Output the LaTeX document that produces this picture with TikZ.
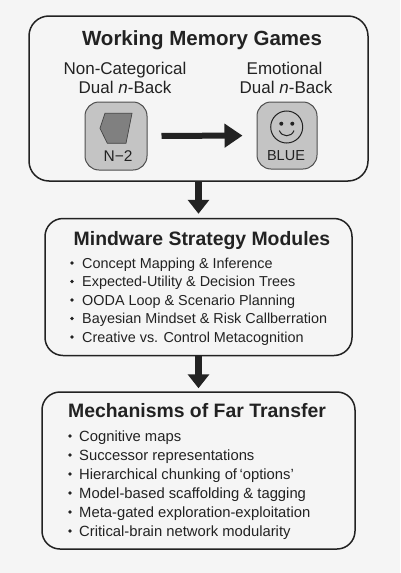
\documentclass[tikz,border=0pt]{standalone}
\usepackage{fontspec}
\setmainfont{Liberation Sans}
\usepackage{xcolor}
\usetikzlibrary{arrows.meta}
\definecolor{pagegray}{RGB}{245,245,245}
\definecolor{inkgray}{RGB}{34,34,34}
\definecolor{tilegray}{RGB}{196,196,196}
\definecolor{polygray}{RGB}{128,128,128}

\begin{document}
\begin{tikzpicture}[
    x=1pt, y=-1pt,
    panel/.style={rectangle, draw=inkgray, line width=1.5pt, rounded corners=20pt, fill=pagegray},
    tile/.style={rectangle, draw=inkgray!80, line width=1pt, rounded corners=14pt, fill=tilegray},
    heading/.style={font=\fontsize{19.4}{24}\selectfont\bfseries, text=inkgray, inner sep=0pt, anchor=base},
    sublabel/.style={font=\fontsize{17}{20}\selectfont, text=inkgray, inner sep=0pt, anchor=base},
    tiletext/.style={font=\fontsize{15.5}{18}\selectfont, text=inkgray, inner sep=0pt, anchor=base},
    listitem/.style={text=inkgray, anchor=base west, inner sep=0pt},
    bigarrow/.style={-{Triangle[length=14pt,width=21pt]}, line width=6.5pt, color=inkgray},
]
\fill[pagegray] (0, 0) rectangle (400, 573);

% three panels
\node[panel, minimum width=339pt, minimum height=165pt] (games) at (198.5, 98.5) {};
\node[panel, minimum width=307pt, minimum height=137pt, rounded corners=18pt] (mindware) at (198.5, 287) {};
\node[panel, minimum width=313pt, minimum height=157pt, rounded corners=18pt] (far) at (198.5, 470.5) {};

% top panel
\node[heading, font=\fontsize{20.5}{24}\selectfont\bfseries] (gamestitle) at (202, 45) {Working Memory Games};
\node[sublabel] (noncat) at (125, 74) {Non-Categorical};
\node[sublabel] (noncatb) at (125, 93.5) {Dual \textit{n}-Back};
\node[sublabel] (emo) at (284.5, 74) {Emotional};
\node[sublabel] (emob) at (286, 93.5) {Dual \textit{n}-Back};
\node[tile, minimum width=62pt, minimum height=68pt] (tileleft) at (116, 136) {};
\node[tile, minimum width=60pt, minimum height=67pt] (tileright) at (287, 135.5) {};
\draw[draw=inkgray!85, fill=polygray, line width=0.7pt]
    (105, 113.3) -- (132, 113.3) -- (126, 143.3) -- (107.3, 143.3) -- (100, 128.3) -- cycle;
\node[tiletext] (nback) at (118, 161.5) {N−2};
\draw[inkgray, line width=1pt] (286.7, 127) circle (16);
\fill[inkgray] (281.3, 123.7) circle (2) (292.3, 123.7) circle (2);
\draw[inkgray, line width=1pt] (279.3, 130.5) .. controls (282, 137.5) and (291.5, 137.5) .. (294, 130.5);
\node[tiletext, font=\fontsize{14.5}{18}\selectfont] (blue) at (286, 160.5) {BLUE};
\draw[-{Triangle[length=18pt,width=23pt]}, line width=6pt, color=inkgray, shorten <=14pt, shorten >=14pt]
    (tileleft) -- (tileright);

% middle panel
\node[heading] (mindtitle) at (202, 245) {Mindware Strategy Modules};
\foreach \txt [count=\i] in {Concept Mapping \& Inference, Expected-Utility \& Decision Trees,
    OODA Loop \& Scenario Planning, Bayesian Mindset \& Risk Callberration,
    Creative vs. Control Metacognition} {
    \node[listitem, font=\fontsize{14.4}{17}\selectfont] (mind\i) at (82, 249.5+18.5*\i) {\txt};
    \fill[inkgray] (72, 244.5+18.5*\i) circle (1.9);
}

% bottom panel
\node[heading] (fartitle) at (197, 417) {Mechanisms of Far Transfer};
\foreach \txt [count=\i] in {Cognitive maps, Successor representations,
    Hierarchical chunking of\,‘options’, Model-based scaffolding \& tagging,
    Meta-gated exploration-exploitation, Critical-brain network modularity} {
    \node[listitem, font=\fontsize{14.8}{17}\selectfont] (far\i) at (79, 422+19*\i) {\txt};
    \fill[inkgray] (70, 417+19*\i) circle (1.9);
}

% between panels
\draw[bigarrow, shorten >=4pt] (games) -- (mindware);
\draw[bigarrow, shorten >=3pt] (mindware) -- (far);
\end{tikzpicture}
\end{document}
